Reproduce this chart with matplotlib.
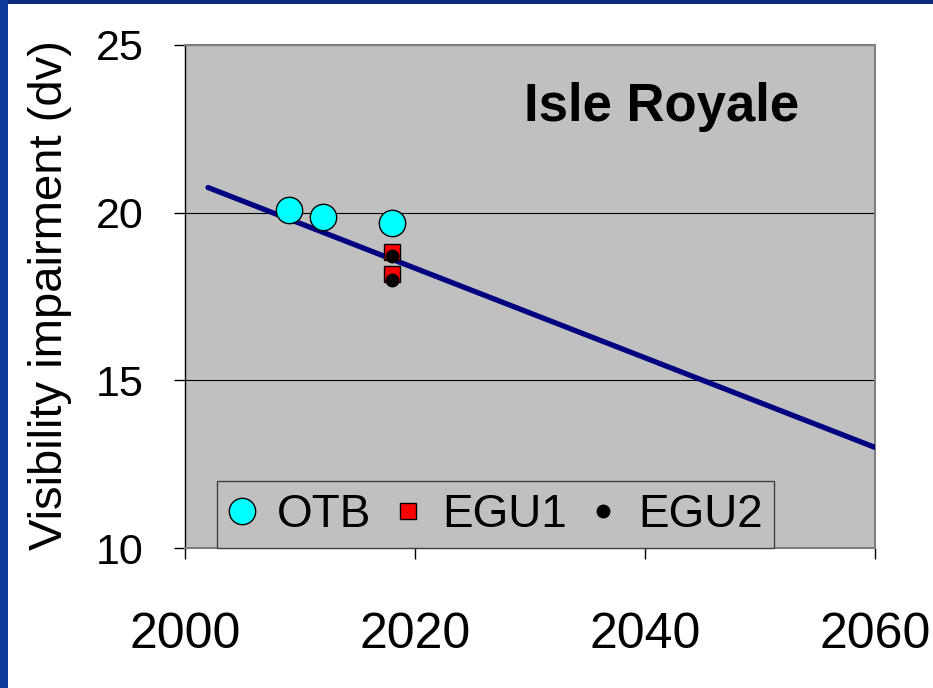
import numpy as np
import matplotlib
matplotlib.use("Agg")
import matplotlib.pyplot as plt
from matplotlib.patches import Rectangle

plt.rcParams['font.family'] = ['Liberation Sans', 'DejaVu Sans']

# glide path (straight line)
line_years = [2002, 2060]
line_vals = [20.75, 13.0]

# points
otb_years = [2009, 2012, 2018]
otb_vals = [20.07, 19.87, 19.69]
egu1_years = [2018, 2018]
egu1_vals = [18.83, 18.16]
egu2_years = [2018, 2018]
egu2_vals = [18.70, 18.00]

fig = plt.figure(figsize=(9.33, 6.88), dpi=100)
fig.patch.set_facecolor('white')

# slide frame (blue bars top and left)
fig.patches.append(Rectangle((0, 1 - 4/688), 1, 4/688, transform=fig.transFigure,
                             facecolor='#0a2b7e', edgecolor='none', zorder=0))
fig.patches.append(Rectangle((0, 0), 8/933, 1, transform=fig.transFigure,
                             facecolor='#0b3a9c', edgecolor='none', zorder=0))

ax = fig.add_axes([185/933, 140/688, 690/933, 503/688])
ax.set_facecolor('#c0c0c0')

ax.plot(line_years, line_vals, color='#000080', lw=3.8, solid_capstyle='round', zorder=3)
ax.plot(otb_years, otb_vals, 'o', ms=19, mfc='#00ffff', mec='black', mew=1,
        ls='none', label='OTB', zorder=4)
ax.plot(egu1_years, egu1_vals, 's', ms=12, mfc='#ff0000', mec='black', mew=1,
        ls='none', label='EGU1', zorder=5)
ax.plot(egu2_years, egu2_vals, 'o', ms=9, mfc='black', mec='black',
        ls='none', label='EGU2', zorder=6)

ax.set_xlim(2000, 2060)
ax.set_ylim(10, 25)
ax.set_xticks([2000, 2020, 2040, 2060])
ax.set_yticks([10, 15, 20, 25])
ax.yaxis.grid(True, color='black', lw=0.8)
ax.set_axisbelow(True)

for s in ['top', 'right', 'bottom']:
    ax.spines[s].set_color('#808080')
    ax.spines[s].set_linewidth(1.5)
ax.spines['left'].set_color('black')
ax.spines['left'].set_linewidth(1)

ax.tick_params(axis='x', labelsize=36, length=8, width=1, pad=38, colors='black')
ax.tick_params(axis='y', labelsize=31, length=8, width=1, pad=22, colors='black')

ax.set_ylabel('Visibility impairment (dv)', fontsize=34)
ax.yaxis.set_label_coords(-0.164, 0.503)

ax.text(0.691, 0.877, 'Isle Royale', transform=ax.transAxes, fontsize=38,
        fontweight='bold', ha='center', va='center')

leg = ax.legend(ncol=3, loc='lower left', bbox_to_anchor=(32/690, 0.0),
                fontsize=33, frameon=True, fancybox=False, handlelength=0.6,
                handletextpad=0.45, columnspacing=0.5, borderpad=0.25,
                borderaxespad=0, markerscale=1.0)
leg.get_frame().set_facecolor('#c0c0c0')
leg.get_frame().set_edgecolor('#404040')
leg.get_frame().set_alpha(1)

fig.savefig('out.png', dpi=100, facecolor='white')
